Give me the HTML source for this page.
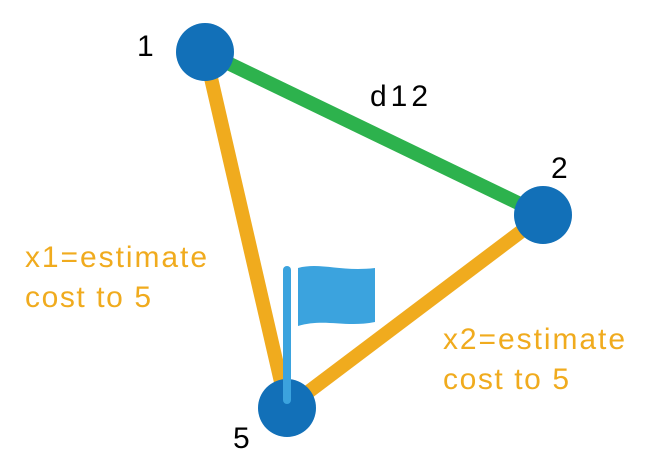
<!DOCTYPE html>
<html><head><meta charset="utf-8"><style>
html,body{margin:0;padding:0;background:#fff;}
svg{display:block;}
text{font-family:"Liberation Sans",sans-serif;font-size:30px;}
</style></head><body>
<svg width="647" height="473" viewBox="0 0 647 473">
<line x1="205" y1="52" x2="543" y2="215" stroke="#2db24d" stroke-width="14"/>
<line x1="205" y1="52" x2="287" y2="408" stroke="#f0ab1e" stroke-width="14"/>
<line x1="543" y1="215" x2="287" y2="408" stroke="#f0ab1e" stroke-width="14"/>
<circle cx="205" cy="52" r="29" fill="#1270b8"/>
<circle cx="543" cy="215" r="29" fill="#1270b8"/>
<circle cx="287" cy="408" r="29" fill="#1270b8"/>
<g>
<rect x="283" y="266" width="8" height="138" rx="4" fill="#3ba3de"/>
<path d="M298 268 C320 262 340 272 375 268 L375 322 C345 328 325 318 298 326 Z" fill="#3ba3de"/>
</g>
<text x="137" y="56" fill="#000">1</text>
<text x="370" y="106" fill="#000" textLength="58">d12</text>
<text x="551" y="178" fill="#000">2</text>
<text x="233" y="448" fill="#000">5</text>
<text x="25" y="267" fill="#f0ab1e" textLength="182">x1=estimate</text>
<text x="25" y="307" fill="#f0ab1e" textLength="126">cost to 5</text>
<text x="443" y="349" fill="#f0ab1e" textLength="182">x2=estimate</text>
<text x="443" y="389" fill="#f0ab1e" textLength="126">cost to 5</text>
</svg>
</body></html>
